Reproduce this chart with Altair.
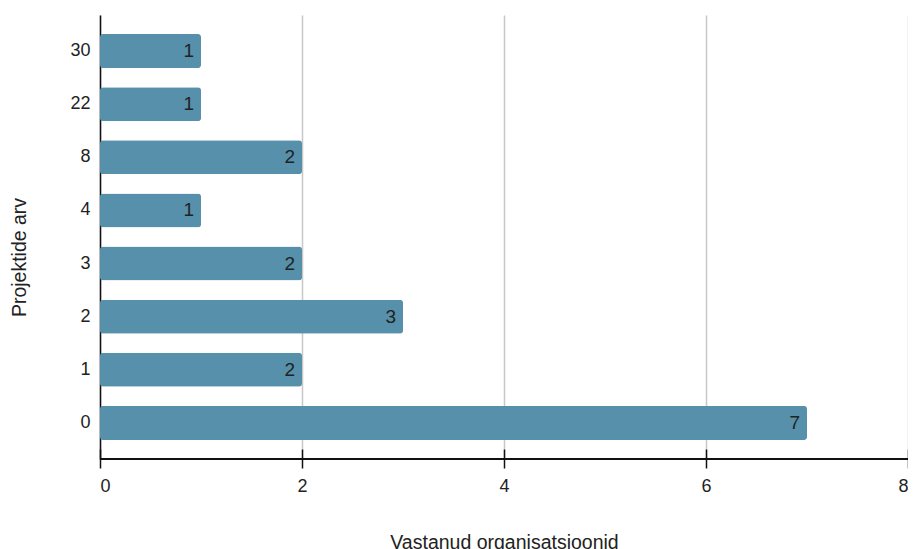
import altair as alt
import pandas as pd

categories = ["30", "22", "8", "4", "3", "2", "1", "0"]
values = [1, 1, 2, 1, 2, 3, 2, 7]
x_ticks = [0, 2, 4, 6, 8]

df = pd.DataFrame({"cat": categories, "val": values})

W, H = 808, 444
FONT = "Liberation Sans"

x_enc = alt.X(
    "val:Q",
    scale=alt.Scale(domain=[0, 8], nice=False),
    axis=alt.Axis(
        values=x_ticks,
        format="d",
        title="Vastanud organisatsioonid",
        titleFont=FONT,
        titleFontSize=19.5,
        titleFontWeight="normal",
        titleColor="#222",
        titlePadding=38,
        labelFont=FONT,
        labelFontSize=18,
        labelColor="#222",
        labelPadding=9,
        domain=False,
        ticks=True,
        tickColor="#111",
        tickWidth=1.5,
        tickSize=19,
        offset=-10,
        grid=True,
        gridColor="#c8c8c8",
        gridWidth=1.5,
    ),
)

y_enc = alt.Y(
    "cat:N",
    sort=categories,
    scale=alt.Scale(paddingInner=0.36, paddingOuter=0.36),
    axis=alt.Axis(
        title="Projektide arv",
        titleFont=FONT,
        titleFontSize=19.5,
        titleFontWeight="normal",
        titleColor="#222",
        titlePadding=40,
        titleY=242,
        labelFont=FONT,
        labelFontSize=18,
        labelColor="#222",
        labelPadding=10,
        ticks=False,
        domain=True,
        domainColor="#111",
        domainWidth=1.5,
        grid=False,
    ),
)

bars = alt.Chart(df).mark_bar(color="#5690ab", cornerRadius=3).encode(x=x_enc, y=y_enc)

labels = alt.Chart(df).mark_text(
    align="right", baseline="middle", dx=-7, font=FONT, fontSize=19, color="#222"
).encode(x="val:Q", y=alt.Y("cat:N", sort=categories), text="val:Q")

baseline = alt.Chart(df).mark_rule(color="#111", strokeWidth=1.5).encode(
    x=alt.value(0), x2=alt.value(W), y=alt.value(H)
)

chart = (
    alt.layer(bars, labels, baseline)
    .properties(
        width=W,
        height=H,
        autosize=alt.AutoSizeParams(type="none"),
        padding={"left": 92, "top": 7, "right": 0, "bottom": 90},
    )
    .configure_view(stroke=None)
)

chart.save("out.html", embed_options={"renderer": "svg", "actions": False})
